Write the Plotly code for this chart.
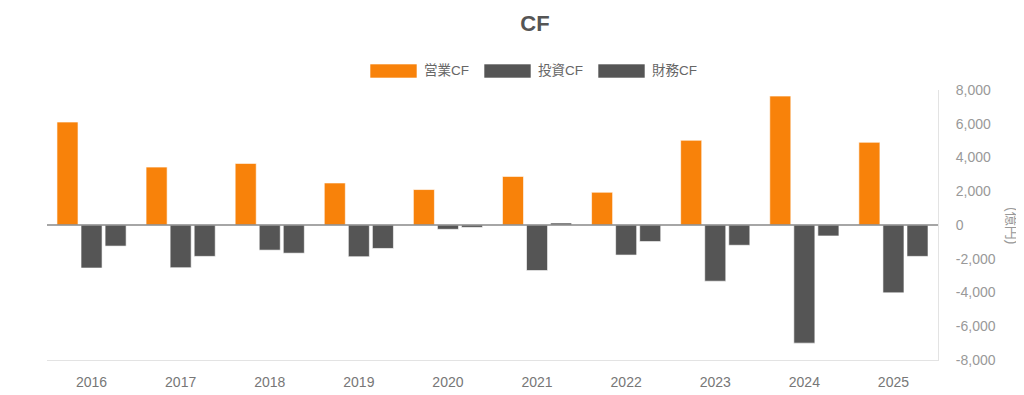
import plotly.graph_objects as go

years = ["2016", "2017", "2018", "2019", "2020", "2021", "2022", "2023", "2024", "2025"]
operating_cf = [6100, 3430, 3650, 2490, 2100, 2880, 1940, 5020, 7640, 4900]
investing_cf = [-2550, -2530, -1490, -1880, -255, -2700, -1780, -3330, -7000, -4020]
financing_cf = [-1250, -1860, -1670, -1390, -140, 120, -980, -1200, -650, -1860]
series_names = ["営業CF", "投資CF", "財務CF"]
series_colors = ["#F8820A", "#555555", "#555555"]
y_ticks = [-8000, -6000, -4000, -2000, 0, 2000, 4000, 6000, 8000]
y_tick_text = ["-8,000", "-6,000", "-4,000", "-2,000", "0", "2,000", "4,000", "6,000", "8,000"]

FONT = "Liberation Sans, Arial, Noto Sans CJK JP, sans-serif"

fig = go.Figure()
for name, vals, col in zip(series_names, [operating_cf, investing_cf, financing_cf], series_colors):
    fig.add_trace(go.Bar(
        x=years, y=vals, name=name,
        marker=dict(color=col, line=dict(color="rgba(255,255,255,0.6)", width=1)),
        showlegend=False,
    ))

OFF = 8  # page body margin
W, H = 1024 - OFF, 395 - OFF
L, R, T, B = 47 - OFF, 1024 - 938, 90 - OFF, 395 - 360
pw, ph = W - L - R, H - T - B

def px(xp):
    return (xp - OFF - L) / pw

def py(yp):
    return (H - B - (yp - OFF)) / ph

shapes = []
annotations = []
legend_items = [(370, series_colors[0], series_names[0]),
                (484, series_colors[1], series_names[1]),
                (598, series_colors[2], series_names[2])]
for x0, col, name in legend_items:
    shapes.append(dict(type="rect", xref="paper", yref="paper",
                       x0=px(x0), x1=px(x0 + 47), y0=py(78), y1=py(64),
                       fillcolor=col, line=dict(color="rgba(255,255,255,0.6)", width=1)))
    annotations.append(dict(xref="paper", yref="paper", x=px(x0 + 52), y=py(71),
                            text=name, showarrow=False, xanchor="left", yanchor="middle",
                            font=dict(family=FONT, size=13.5, color="#666666")))

shapes.append(dict(type="line", xref="paper", yref="y", x0=0, x1=1, y0=0, y1=0,
                   line=dict(color="#888888", width=1.5)))

annotations.append(dict(xref="paper", yref="paper", x=px(1012), y=py(225),
                        text="(億円)", showarrow=False, textangle=90,
                        xanchor="center", yanchor="middle",
                        font=dict(family=FONT, size=14, color="#999999")))

fig.update_layout(
    width=W, height=H,
    margin=dict(l=L, r=R, t=T, b=B),
    paper_bgcolor="white", plot_bgcolor="white",
    title=dict(text="<b>CF</b>", x=(535 - OFF) / W, xref="container", xanchor="center",
               y=1 - (23 - OFF) / H, yref="container", yanchor="middle",
               font=dict(family=FONT, size=22, color="#555555")),
    barmode="group", bargap=0.19, bargroupgap=0.125,
    xaxis=dict(type="category", showgrid=False, showline=True, linecolor="#e3e3e3",
               linewidth=1, ticks="", ticklabelstandoff=9, automargin=False,
               tickfont=dict(family=FONT, size=14, color="#777777"),
               zeroline=False),
    yaxis=dict(side="right", range=[-8000, 8000], tickvals=y_ticks, ticktext=y_tick_text,
               showgrid=False, zeroline=False, showline=True, linecolor="#e3e3e3",
               linewidth=1, ticks="", ticklabelstandoff=14, automargin=False,
               tickfont=dict(family=FONT, size=14, color="#999999")),
    shapes=shapes, annotations=annotations,
    showlegend=False,
)

fig.write_html("out.html")
